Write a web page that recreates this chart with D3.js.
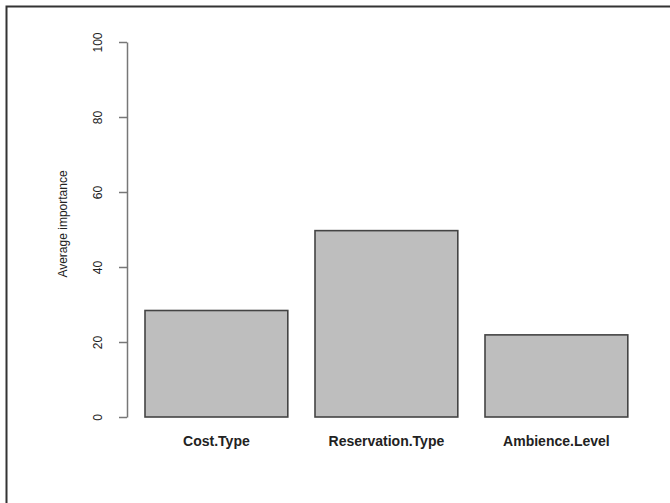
<!DOCTYPE html>
<html>
<head>
<meta charset="utf-8">
<script src="https://cdn.jsdelivr.net/npm/d3@7"></script>
<style>
  body { margin: 0; background: #fff; }
  svg { display: block; font-family: "Liberation Sans", Arial, sans-serif; }
</style>
</head>
<body>
<svg width="670" height="503"></svg>
<script>
var categories = ["Cost.Type", "Reservation.Type", "Ambience.Level"];
var importance = [28.4, 49.7, 21.9];
var yTicks = [0, 20, 40, 60, 80, 100];

var svg = d3.select("svg"),
    width = +svg.attr("width"),
    height = +svg.attr("height");

var data = categories.map(function (c, i) {
    return {name: c, value: importance[i]};
});

// outer frame (only top and left edges show in the crop)
svg.append("path")
    .attr("d", "M6.5," + height + "V6.5H" + width)
    .attr("fill", "none")
    .attr("stroke", "#333")
    .attr("stroke-width", 2);

var x = d3.scaleBand()
    .domain(categories)
    .range([131.4, 641.4])
    .paddingInner(0.16)
    .paddingOuter(0.08);

var y = d3.scaleLinear()
    .domain([0, 100])
    .range([417, 42]);

// y axis
var yAxis = svg.append("g")
    .attr("transform", "translate(127,0)")
    .call(d3.axisLeft(y).tickValues(yTicks).tickSize(8).tickSizeOuter(0).tickFormat(d3.format("d")));

yAxis.select(".domain").attr("stroke", "#777").attr("stroke-width", 1.5);
yAxis.selectAll(".tick line").attr("stroke", "#777").attr("stroke-width", 1.5);
yAxis.selectAll(".tick text")
    .attr("x", null).attr("dy", null)
    .attr("transform", "translate(-29,0) rotate(-90)")
    .attr("text-anchor", "middle")
    .attr("dy", "0.35em")
    .attr("font-size", 12)
    .attr("fill", "#222");

svg.append("text")
    .attr("transform", "translate(63,224) rotate(-90)")
    .attr("text-anchor", "middle")
    .attr("dy", "0.35em")
    .attr("font-size", 12)
    .attr("fill", "#222")
    .text("Average importance");

// bars
svg.append("g")
    .selectAll("rect")
    .data(data)
    .enter().append("rect")
    .attr("x", d => x(d.name))
    .attr("y", d => y(d.value))
    .attr("width", x.bandwidth())
    .attr("height", d => y(0) - y(d.value))
    .attr("fill", "#bebebe")
    .attr("stroke", "#444")
    .attr("stroke-width", 1.6);

// category labels
svg.append("g")
    .selectAll("text")
    .data(data)
    .enter().append("text")
    .attr("x", d => x(d.name) + x.bandwidth() / 2)
    .attr("y", 446)
    .attr("text-anchor", "middle")
    .attr("font-size", 14)
    .attr("font-weight", "bold")
    .attr("fill", "#222")
    .text(d => d.name);
</script>
</body>
</html>
